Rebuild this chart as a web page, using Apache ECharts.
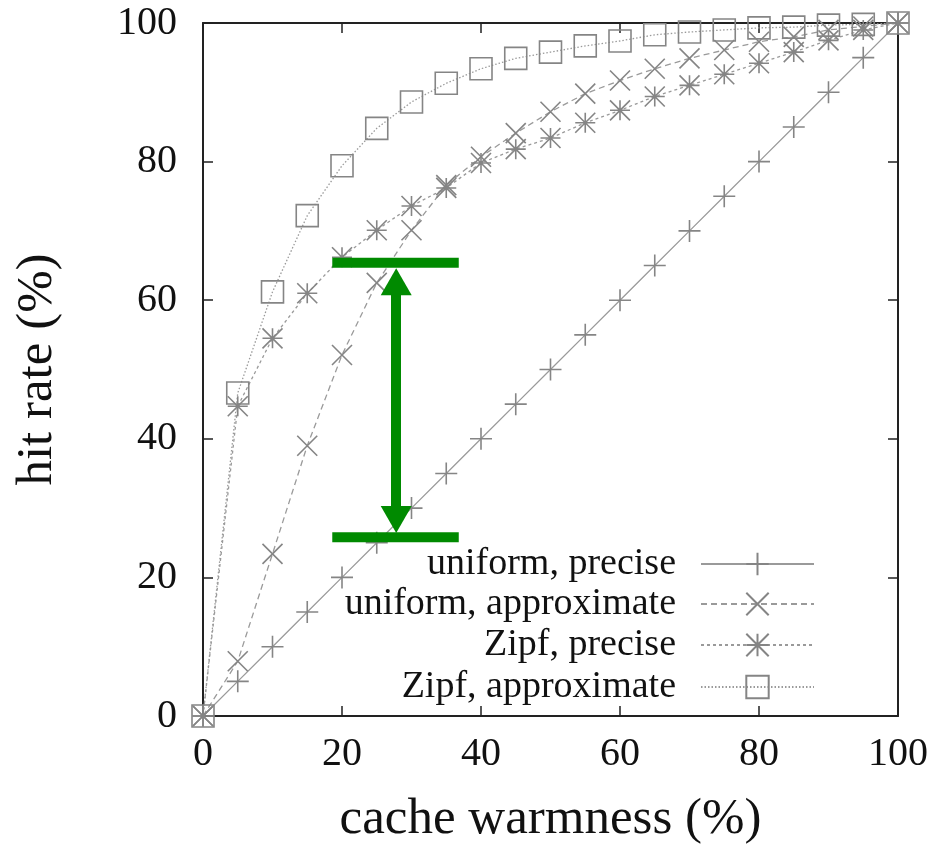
<!DOCTYPE html>
<html>
<head>
<meta charset="utf-8">
<script src="https://cdn.jsdelivr.net/npm/echarts@6/dist/echarts.min.js"></script>
<style>
  html, body { margin: 0; padding: 0; background: #fff; }
  #chart { width: 936px; height: 846px; }
</style>
</head>
<body>
<div id="chart"></div>
<script>
// ---- data ----
const warmness = [0,5,10,15,20,25,30,35,40,45,50,55,60,65,70,75,80,85,90,95,100];
const uniformPrecise = [0,5,10,15,20,25,30,35,40,45,50,55,60,65,70,75,80,85,90,95,100];
const uniformApprox = [0,7.9,23.4,39.0,52.1,62.5,70.1,76.6,80.7,84.1,87.2,89.8,91.7,93.4,94.9,96.1,97.3,98.0,99.0,99.5,100];
const zipfPrecise = [0,44.7,54.5,61.0,66.2,70.1,73.6,76.2,79.8,81.8,83.4,85.6,87.4,89.4,91.0,92.6,94.2,95.8,97.5,99.0,100];
const zipfApprox = [0,46.6,61.2,72.2,79.4,84.8,88.6,91.3,93.4,94.9,95.8,96.7,97.4,98.3,98.7,99.0,99.3,99.4,99.7,99.8,100];
const seriesNames = ['uniform, precise', 'uniform, approximate', 'Zipf, precise', 'Zipf, approximate'];
const xTicks = [0,20,40,60,80,100];
const yTicks = [0,20,40,60,80,100];
// annotation (data coordinates)
const annotBarX = [18.6, 36.8];
const annotTopY = 65.4;
const annotBottomY = 25.8;
const arrowX = 27.8;
const arrowTipTop = 64.6;
const arrowTipBottom = 26.4;

const pairs = (ys) => warmness.map((x, i) => [x, ys[i]]);

const SERIF = 'Liberation Serif';
const markerColor = '#858585';
const lineColor = '#9a9a9a';
const green = '#008a00';

const symPlus = 'path://M0,-1L0,1M-1,0L1,0';
const symCross = 'path://M-1,-1L1,1M-1,1L1,-1';
const symStar = 'path://M0,-1L0,1M-1,0L1,0M-1,-1L1,1M-1,1L1,-1';
const symSquare = 'path://M-1,-1L1,-1L1,1L-1,1Z';

function mkSeries(name, ys, symbol, size, dash) {
  return {
    name: name,
    type: 'line',
    data: pairs(ys),
    symbol: symbol,
    symbolSize: size,
    showAllSymbol: true,
    lineStyle: { color: lineColor, width: 1.3, type: dash },
    itemStyle: { color: 'rgba(0,0,0,0)', borderColor: markerColor, borderWidth: 1.6 },
    emphasis: { disabled: true },
    animation: false,
    z: 3
  };
}

const legendRows = [562, 602, 643, 685];

const chart = echarts.init(document.getElementById('chart'), null, { renderer: 'canvas' });

const axisLine = { show: true, onZero: false, lineStyle: { color: '#222', width: 2 } };
const axisTick = { show: true, inside: true, length: 10, lineStyle: { color: '#222', width: 1.5 } };

chart.setOption({
  backgroundColor: '#fff',
  animation: false,
  grid: { left: 203, right: 38, top: 23, bottom: 130, containLabel: false, outerBoundsMode: 'none' },
  legend: seriesNames.map((n, i) => ({
    data: [n],
    orient: 'vertical',
    align: 'right',
    right: 116,
    top: legendRows[i] - 23,
    itemWidth: 113,
    itemHeight: 28,
    selectedMode: false,
    textStyle: { fontFamily: SERIF, fontSize: 38, color: '#111', padding: [0, 20, 0, 0], lineHeight: 40 }
  })),
  xAxis: [{
    type: 'value', min: 0, max: 100, interval: 20,
    axisLine: axisLine, axisTick: axisTick, splitLine: { show: false },
    axisLabel: { fontFamily: SERIF, fontSize: 40, color: '#111', margin: 18,
      formatter: (v) => xTicks.includes(v) ? String(v) : '' },
    name: 'cache warmness (%)', nameLocation: 'middle', nameGap: 78,
    nameTextStyle: { fontFamily: SERIF, fontSize: 51, color: '#111' }
  }, {
    type: 'value', min: 0, max: 100, interval: 20, position: 'top',
    axisLine: axisLine, axisTick: axisTick, splitLine: { show: false },
    axisLabel: { show: false }
  }],
  yAxis: [{
    type: 'value', min: 0, max: 100, interval: 20,
    axisLine: axisLine, axisTick: axisTick, splitLine: { show: false },
    axisLabel: { fontFamily: SERIF, fontSize: 40, color: '#111', margin: 26,
      formatter: (v) => yTicks.includes(v) ? String(v) : '' },
    name: 'hit rate (%)', nameLocation: 'middle', nameGap: 140,
    nameTextStyle: { fontFamily: SERIF, fontSize: 51, color: '#111' }
  }, {
    type: 'value', min: 0, max: 100, interval: 20, position: 'right',
    axisLine: axisLine, axisTick: axisTick, splitLine: { show: false },
    axisLabel: { show: false }
  }],
  series: [
    mkSeries(seriesNames[0], uniformPrecise, symPlus, 22, 'solid'),
    mkSeries(seriesNames[1], uniformApprox, symCross, 20, [6, 4]),
    mkSeries(seriesNames[2], zipfPrecise, symStar, 20, [3, 3]),
    mkSeries(seriesNames[3], zipfApprox, symSquare, 22, [1.5, 2]),
    {
      name: 'annotTop', type: 'line', symbol: 'none', z: 5,
      data: [[annotBarX[0], annotTopY], [annotBarX[1], annotTopY]],
      lineStyle: { color: green, width: 10, cap: 'butt' }, emphasis: { disabled: true }
    },
    {
      name: 'annotBottom', type: 'line', symbol: 'none', z: 5,
      data: [[annotBarX[0], annotBottomY], [annotBarX[1], annotBottomY]],
      lineStyle: { color: green, width: 10, cap: 'butt' }, emphasis: { disabled: true }
    },
    {
      name: 'annotArrow', type: 'line', data: [], z: 5,
      markLine: {
        silent: true, animation: false,
        symbol: ['triangle', 'triangle'], symbolSize: [31, 27],
        label: { show: false },
        lineStyle: { color: green, width: 10, type: 'solid', cap: 'butt' },
        emphasis: { disabled: true },
        data: [[{ coord: [arrowX, arrowTipTop - 1.95] }, { coord: [arrowX, arrowTipBottom + 1.95] }]]
      }
    }
  ]
});
</script>
</body>
</html>
